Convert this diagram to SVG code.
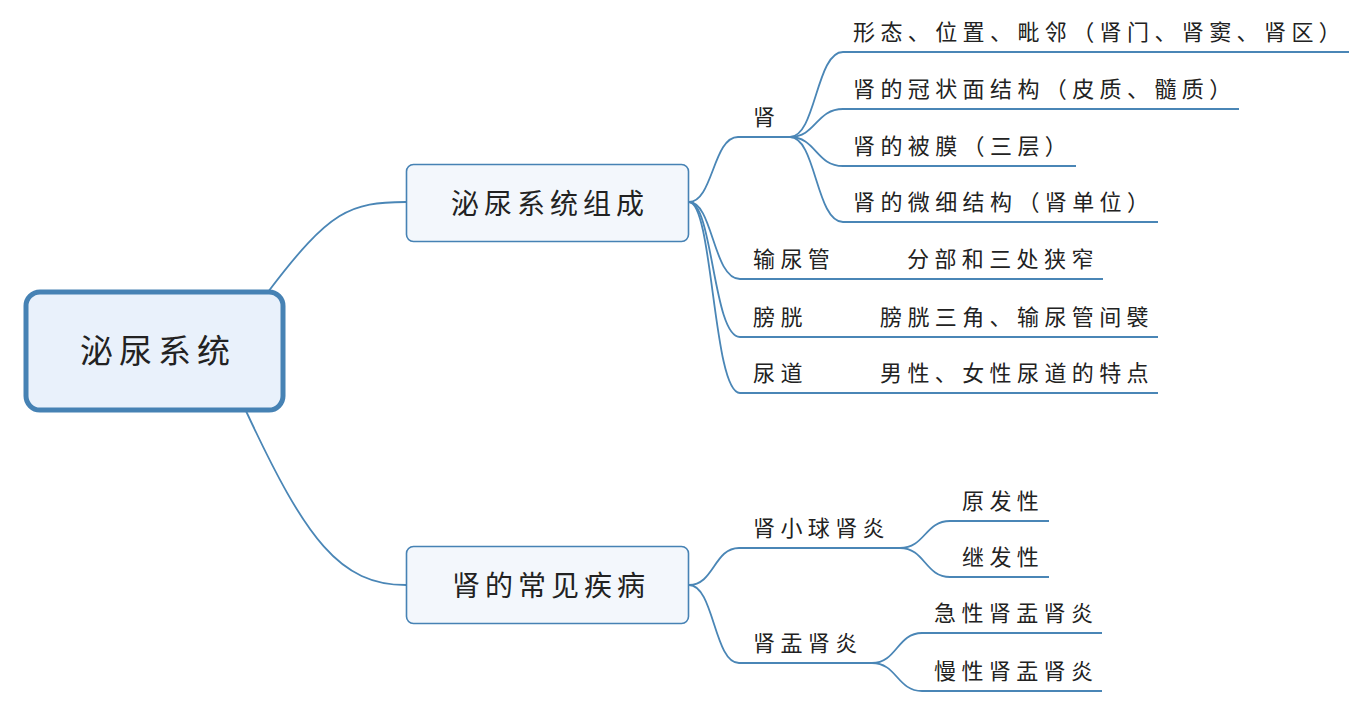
<svg xmlns="http://www.w3.org/2000/svg" width="1370" height="702" viewBox="0 0 1370 702">
<style>
.c{fill:none;stroke:#4a86b6;stroke-width:1.8;stroke-linecap:round}
.u{fill:none;stroke:#4a86b6;stroke-width:1.8}
.t{font-family:"Noto Sans CJK SC","Noto Sans",sans-serif;fill:#222222}
.s{font-size:22px;letter-spacing:5.4px}
.m{font-size:28px;letter-spacing:5px}
.r{font-size:33px;letter-spacing:6px}
.box{fill:#f3f7fc;stroke:#4682b4;stroke-width:1.6}
</style>
<rect width="1370" height="702" fill="#ffffff"/>
<g id="connectors">
<path class="c" d="M268,292 C330,210 350,202 406,202"/>
<path class="c" d="M246,411 C306,540 340,585 406,585"/>
<path class="c" d="M689,202 C713,202 713,137 738,137"/>
<path class="c" d="M689,202 C713,202 713,279 740,279"/>
<path class="c" d="M689,202 C713,202 713,337 740,337"/>
<path class="c" d="M689,202 C713,202 713,393 740,393"/>
<path class="c" d="M790,137 C816,137 816,52 843,52"/>
<path class="c" d="M790,137 C816,137 816,109 843,109"/>
<path class="c" d="M790,137 C816,137 816,166 843,166"/>
<path class="c" d="M790,137 C816,137 816,222 843,222"/>
<path class="c" d="M842,279 L895,279"/>
<path class="c" d="M815,337 L868,337"/>
<path class="c" d="M815,393 L868,393"/>
<path class="c" d="M689,585 C714,585 714,548 739,548"/>
<path class="c" d="M689,585 C714,585 714,663 739,663"/>
<path class="c" d="M900,548 C925,548 925,521 950,521"/>
<path class="c" d="M900,548 C925,548 925,577 950,577"/>
<path class="c" d="M872,663 C897,663 897,633 922,633"/>
<path class="c" d="M872,663 C897,663 897,691 922,691"/>
</g>
<g id="root">
<rect x="26" y="292" width="257" height="118" rx="14" fill="#e9f1fb" stroke="#4682b4" stroke-width="5"/>
<text class="t r" x="80" y="363">泌尿系统</text>
</g>
<g id="n-zucheng">
<rect class="box" x="406.5" y="164.5" width="282" height="77" rx="7"/>
<text class="t m" x="451" y="214">泌尿系统组成</text>
</g>
<g id="n-jibing">
<rect class="box" x="406.5" y="546.5" width="282" height="77" rx="7"/>
<text class="t m" x="452" y="596">肾的常见疾病</text>
</g>
<g id="n-shen">
<path class="u" d="M738,137 H790"/>
<text class="t s" x="753" y="125">肾</text>
</g>
<g id="n-shen-1">
<path class="u" d="M843,52 H1349"/>
<text class="t s" x="853" y="40">形态、位置、毗邻（肾门、肾窦、肾区）</text>
</g>
<g id="n-shen-2">
<path class="u" d="M843,109 H1239"/>
<text class="t s" x="853" y="97">肾的冠状面结构（皮质、髓质）</text>
</g>
<g id="n-shen-3">
<path class="u" d="M843,166 H1076"/>
<text class="t s" x="853" y="154">肾的被膜（三层）</text>
</g>
<g id="n-shen-4">
<path class="u" d="M843,222 H1158"/>
<text class="t s" x="853" y="210">肾的微细结构（肾单位）</text>
</g>
<g id="n-shuniaoguan">
<path class="u" d="M740,279 H842"/>
<text class="t s" x="753" y="267">输尿管</text>
</g>
<g id="n-shuniaoguan-1">
<path class="u" d="M895,279 H1103"/>
<text class="t s" x="907" y="267">分部和三处狭窄</text>
</g>
<g id="n-pangguang">
<path class="u" d="M740,337 H815"/>
<text class="t s" x="753" y="325">膀胱</text>
</g>
<g id="n-pangguang-1">
<path class="u" d="M868,337 H1158"/>
<text class="t s" x="880" y="325">膀胱三角、输尿管间襞</text>
</g>
<g id="n-niaodao">
<path class="u" d="M740,393 H815"/>
<text class="t s" x="753" y="381">尿道</text>
</g>
<g id="n-niaodao-1">
<path class="u" d="M868,393 H1158"/>
<text class="t s" x="880" y="381">男性、女性尿道的特点</text>
</g>
<g id="n-shenxiaoqiu">
<path class="u" d="M739,548 H900"/>
<text class="t s" x="753" y="536">肾小球肾炎</text>
</g>
<g id="n-yuanfa">
<path class="u" d="M950,521 H1049"/>
<text class="t s" x="962" y="509">原发性</text>
</g>
<g id="n-jifa">
<path class="u" d="M950,577 H1049"/>
<text class="t s" x="962" y="565">继发性</text>
</g>
<g id="n-shenyu">
<path class="u" d="M739,663 H872"/>
<text class="t s" x="753" y="651">肾盂肾炎</text>
</g>
<g id="n-jixing">
<path class="u" d="M922,633 H1102"/>
<text class="t s" x="934" y="621">急性肾盂肾炎</text>
</g>
<g id="n-manxing">
<path class="u" d="M922,691 H1102"/>
<text class="t s" x="934" y="679">慢性肾盂肾炎</text>
</g>
</svg>
